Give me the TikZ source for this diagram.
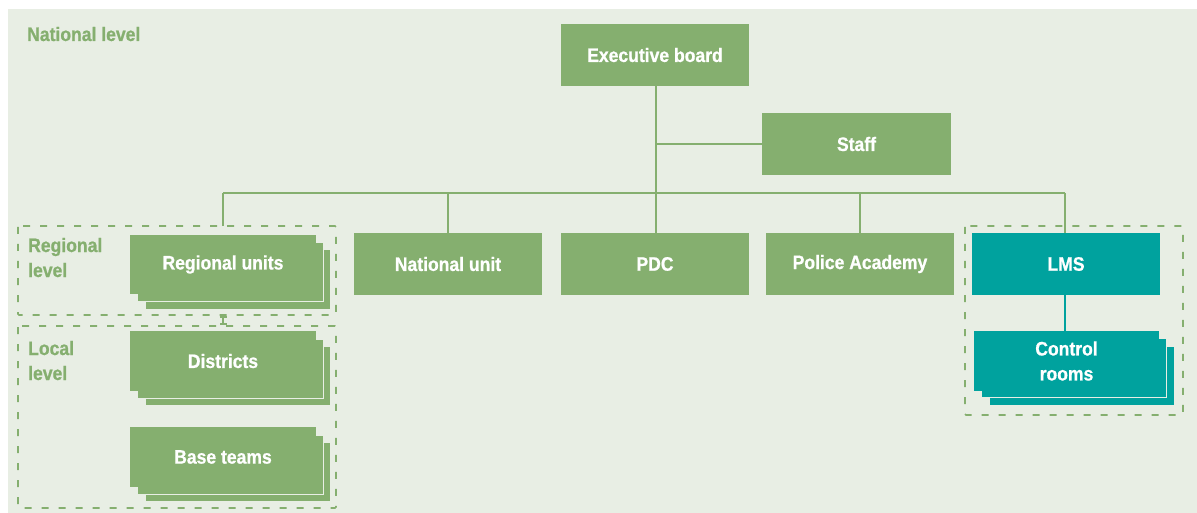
\documentclass[tikz,border=0pt]{standalone}
\usepackage{fontspec}
\setmainfont{Liberation Sans}[FakeStretch=0.92,BoldFont={Liberation Sans Bold},BoldFeatures={FakeStretch=0.9,FakeBold=0.8}]
\usetikzlibrary{arrows.meta}
\definecolor{bg}{HTML}{E8EEE4}
\definecolor{grn}{HTML}{85AF6F}
\definecolor{tl}{HTML}{00A29E}
\newcommand{\twol}[2]{\begin{tabular}[t]{@{}l@{}}#1\\#2\end{tabular}}
\begin{document}
\begin{tikzpicture}[x=1pt,y=-1pt,
  font=\fontsize{19.5}{25}\selectfont\bfseries,
  box/.style={fill=grn,draw=none,text=white,minimum width=188pt,minimum height=62pt,inner sep=0pt,align=center},
  tbox/.style={box,fill=tl},
  layer/.style={fill=grn,draw=bg,line width=1pt},
  tlayer/.style={fill=tl,draw=bg,line width=1pt},
  conn/.style={draw=grn,line width=1.6pt},
  tconn/.style={draw=tl,line width=1.6pt},
  dbox/.style={draw=grn,line width=1.6pt,dash pattern=on 7pt off 10pt,rounded corners=1pt},
  lvl/.style={text=grn,anchor=base west,inner sep=0pt}]
\useasboundingbox (0,0) rectangle (1197,513);
\fill[white] (0,0) rectangle (1197,513);
\fill[bg] (8,9) rectangle (1197,513);
% dashed level boxes
\draw[dbox] (18,226) rectangle (336,315);
\draw[dbox] (18,326) rectangle (336,508);
\draw[dbox] (965,226) rectangle (1183,415);
% level labels
\node[lvl] (natl) at (27,41) {National level};
\node[lvl] (regl) at (28,252) {\twol{Regional}{level}};
\node[lvl] (locl) at (28,355) {\twol{Local}{level}};
% top
\node[box] (exec) at (655,55) {Executive board};
\node[box,minimum width=189pt] (staff) at (856.5,144) {Staff};
% stacked layers
\draw[layer] (145,250) rectangle (330,309);
\draw[layer] (137.5,242.5) rectangle (323,301.5);
\draw[layer] (145,346.5) rectangle (330,405.5);
\draw[layer] (137.5,339) rectangle (323,398);
\draw[layer] (145,442.5) rectangle (330,501.5);
\draw[layer] (137.5,435) rectangle (323,494);
\draw[tlayer] (989,346) rectangle (1174,405);
\draw[tlayer] (981.5,338.5) rectangle (1166.5,397.5);
\node[box,minimum width=186pt,minimum height=59pt] (reg) at (223,264.5) {Regional units};
\node[box,minimum width=186pt,minimum height=60pt] (dist) at (223,361) {Districts};
\node[box,minimum width=186pt,minimum height=60pt] (base) at (223,457) {Base teams};
\node[tbox,minimum width=185pt,minimum height=60pt] (ctrl) at (1066.5,361) {Control\\rooms};
% second row
\node[box] (nat) at (448,264) {National unit};
\node[box] (pdc) at (655,264) {PDC};
\node[box] (pa) at (860,264) {Police Academy};
\node[tbox] (lms) at (1066,264) {LMS};
% connectors
\coordinate (bus) at (656,193);
\coordinate (busL) at (223,193);
\coordinate (busR) at (1065,193);
\coordinate (regtop) at (223,226);
\coordinate (rb) at (223,315);
\coordinate (lt) at (223,326);
\draw[conn] (exec.south -| bus) -- (pdc.north -| bus);
\draw[conn] (staff.west) -- (staff.west -| bus);
\draw[conn] (busL) -- (busR);
\draw[conn] (busL) -- (regtop);
\draw[conn] (nat.north |- bus) -- (nat.north);
\draw[conn] (pa.north |- bus) -- (pa.north);
\draw[conn] (busR) -- (lms.north -| busR);
\draw[conn,{Bar[width=7pt,line width=1.6pt]}-{Bar[width=7pt,line width=1.6pt]},shorten <=1pt,shorten >=1pt] (rb) -- (lt);
\draw[tconn] (lms.south -| busR) -- (ctrl.north -| busR);
\end{tikzpicture}
\end{document}
